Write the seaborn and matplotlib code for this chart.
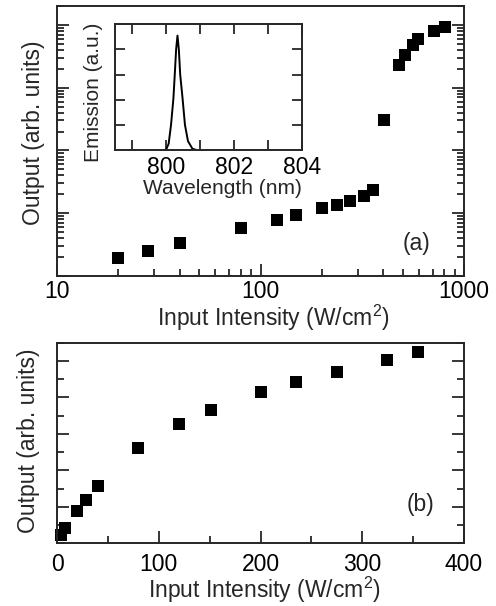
import matplotlib
matplotlib.use("Agg")
import matplotlib.pyplot as plt
import numpy as np
import pandas as pd
import seaborn as sns
from matplotlib.ticker import LogLocator, MultipleLocator, NullFormatter, FixedLocator

# (a) log-log data
intensity_a = [20, 28, 40, 80, 120, 150, 200, 237, 274, 324, 357, 403, 477, 515, 562, 597, 710, 804]
output_a = [1.9, 2.5, 3.3, 5.8, 7.8, 9.2, 11.9, 13.6, 15.9, 18.9, 23.6, 300, 2330, 3360, 4850, 5980, 7920, 9290]

# (b) linear data
intensity_b = [3.5, 8.2, 20, 28, 40, 80, 120, 151, 200, 235, 275, 324, 355]
output_b = [0.23, 0.41, 0.89, 1.19, 1.57, 2.61, 3.27, 3.65, 4.16, 4.42, 4.69, 5.03, 5.25]

# inset emission spectrum
wavelength = [800.0, 800.08, 800.15, 800.22, 800.26, 800.30, 800.34, 800.38, 800.42, 800.49, 800.56, 800.65, 800.78, 800.9]
emission = [0.0, 0.05, 0.2, 0.41, 0.6, 0.8, 0.91, 0.8, 0.6, 0.41, 0.2, 0.07, 0.01, 0.0]

df_a = pd.DataFrame({"x": intensity_a, "y": output_a})
df_b = pd.DataFrame({"x": intensity_b, "y": output_b})
df_in = pd.DataFrame({"wl": wavelength, "em": emission})

sns.set_style("ticks")
plt.rcParams["font.family"] = ["Liberation Sans", "DejaVu Sans"]
plt.rcParams["mathtext.fontset"] = "custom"
plt.rcParams["mathtext.rm"] = "Liberation Sans"
plt.rcParams["mathtext.it"] = "Liberation Sans"
plt.rcParams["font.size"] = 16
plt.rcParams["axes.linewidth"] = 1.4

FS = 16.5
FS_IN = 15
xlab = r"Input Intensity (W/cm$^2$)"

fig = plt.figure(figsize=(4.96, 6.06), dpi=100)
ax1 = fig.add_axes([0.115, 0.5446, 0.8206, 0.4455])
ax2 = fig.add_axes([0.115, 0.1035, 0.8206, 0.331])
axin = fig.add_axes([0.2319, 0.7525, 0.3764, 0.2074])


def style_ticks(ax, top=False, pad=4):
    ax.tick_params(which="both", direction="in", left=True, right=True, top=top,
                   labelsize=FS, width=1.1, color="black", labelcolor="black")
    ax.tick_params(which="major", length=8.5, pad=pad)
    ax.tick_params(which="minor", length=5)


# panel (a)
sns.scatterplot(data=df_a, x="x", y="y", ax=ax1, marker="s", s=81,
                color="black", linewidth=0, clip_on=False)
ax1.set_xscale("log")
ax1.set_yscale("log")
ax1.set_xlim(10, 1000)
ax1.set_ylim(1, 2e4)
ax1.set_xticks([10, 100, 1000], ["10", "100", "1000"])
ax1.yaxis.set_major_locator(LogLocator(base=10, numticks=10))
ax1.yaxis.set_minor_locator(LogLocator(base=10, subs=np.arange(2, 10), numticks=20))
ax1.yaxis.set_major_formatter(NullFormatter())
ax1.yaxis.set_minor_formatter(NullFormatter())
ax1.xaxis.set_minor_formatter(NullFormatter())
style_ticks(ax1, pad=3)
ax1.set_xlabel(xlab, fontsize=FS, labelpad=0)
ax1.xaxis.label.set_x(0.531)
ax1.set_ylabel("Output (arb. units)", fontsize=FS, labelpad=5)
ax1.yaxis.label.set_y(0.53)
ax1.text(0.884, 0.122, "(a)", transform=ax1.transAxes, fontsize=FS, ha="center", va="center")

# inset
sns.lineplot(data=df_in, x="wl", y="em", ax=axin, color="black", linewidth=1.4)
axin.set_xlim(798.5, 804)
axin.set_ylim(0, 1)
axin.set_xticks([800, 802, 804], ["800", "802", "804"])
axin.xaxis.set_minor_locator(MultipleLocator(1))
axin.yaxis.set_major_locator(FixedLocator([0.2, 0.4, 0.6, 0.8]))
axin.yaxis.set_major_formatter(NullFormatter())
style_ticks(axin, top=True)
axin.tick_params(which="minor", length=7)
axin.tick_params(which="major", length=7)
axin.set_xlabel("Wavelength (nm)", fontsize=FS_IN, labelpad=0)
axin.xaxis.label.set_x(0.573)
axin.set_ylabel("Emission (a.u.)", fontsize=FS_IN, labelpad=5)
axin.yaxis.label.set_y(0.46)

# panel (b)
sns.scatterplot(data=df_b, x="x", y="y", ax=ax2, marker="s", s=81,
                color="black", linewidth=0, clip_on=False)
ax2.set_xlim(0, 400)
ax2.set_ylim(0, 5.5)
ax2.set_xticks([0, 100, 200, 300, 400])
ax2.xaxis.set_minor_locator(MultipleLocator(50))
ax2.yaxis.set_major_locator(FixedLocator([1, 2, 3, 4, 5]))
ax2.yaxis.set_minor_locator(MultipleLocator(0.5))
ax2.yaxis.set_major_formatter(NullFormatter())
style_ticks(ax2, pad=7)
ax2.set_xlabel(xlab, fontsize=FS, labelpad=-1)
ax2.xaxis.label.set_x(0.51)
ax2.set_ylabel("Output (arb. units)", fontsize=FS, labelpad=5)
ax2.yaxis.label.set_y(0.51)
ax2.text(0.894, 0.194, "(b)", transform=ax2.transAxes, fontsize=FS, ha="center", va="center")

fig.savefig("out.png", dpi=100)
